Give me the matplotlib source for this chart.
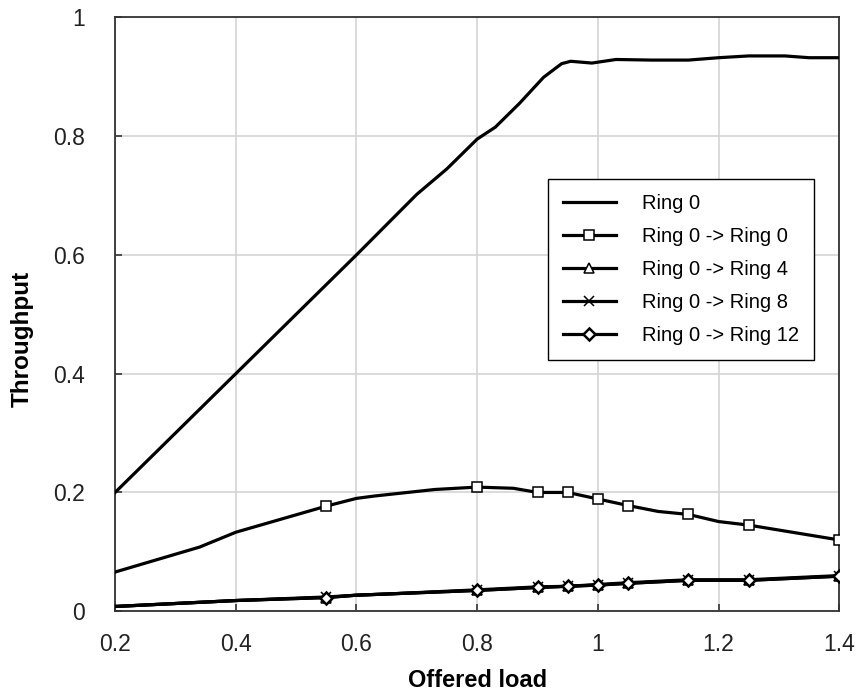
import matplotlib
matplotlib.use('Agg')
import matplotlib.pyplot as plt
import numpy as np

plt.rcParams['font.family'] = ['Liberation Sans', 'DejaVu Sans']

# Ring 0 total throughput
ring0_x = [0.2, 0.3, 0.4, 0.5, 0.6, 0.7, 0.75, 0.8, 0.83, 0.87, 0.91, 0.94,
           0.955, 0.99, 1.03, 1.09, 1.15, 1.2, 1.25, 1.31, 1.35, 1.4]
ring0_y = [0.2, 0.3, 0.4, 0.5, 0.6, 0.702, 0.745, 0.795, 0.815, 0.855, 0.899, 0.922,
           0.926, 0.923, 0.929, 0.928, 0.928, 0.932, 0.935, 0.935, 0.932, 0.932]

# Ring 0 -> Ring 0
r00_x = [0.2, 0.34, 0.4, 0.55, 0.6, 0.63, 0.73, 0.8, 0.86, 0.9, 0.95, 1.0,
         1.05, 1.1, 1.15, 1.2, 1.25, 1.4]
r00_y = [0.066, 0.108, 0.133, 0.177, 0.19, 0.194, 0.205, 0.209, 0.207, 0.2, 0.2, 0.189,
         0.178, 0.168, 0.163, 0.151, 0.145, 0.12]

# Ring 0 -> Ring 4 / 8 / 12 (nearly identical)
low_x = [0.2, 0.4, 0.55, 0.6, 0.65, 0.8, 0.9, 0.95, 1.0, 1.05, 1.15, 1.25, 1.4]
r04_y = [0.008, 0.018, 0.023, 0.027, 0.029, 0.035, 0.040, 0.042, 0.044, 0.047, 0.052, 0.052, 0.059]
r08_y = [0.008, 0.018, 0.024, 0.027, 0.029, 0.036, 0.041, 0.042, 0.045, 0.048, 0.053, 0.053, 0.060]
r12_y = [0.008, 0.018, 0.023, 0.027, 0.029, 0.035, 0.040, 0.042, 0.044, 0.047, 0.052, 0.052, 0.059]

# x values where markers were drawn
marker_x = [0.55, 0.8, 0.9, 0.95, 1.0, 1.05, 1.15, 1.25, 1.4]


def mark_idx(xs):
    return [i for i, v in enumerate(xs) if any(abs(v - m) < 1e-9 for m in marker_x)]


fig = plt.figure(figsize=(8.59, 6.93), dpi=100)
ax = fig.add_axes([0.134, 0.118, 0.843, 0.857])

lw = 2.3
ax.plot(ring0_x, ring0_y, color='black', lw=lw, label='Ring 0', zorder=3)
ax.plot(r00_x, r00_y, color='black', lw=lw, marker='s', ms=7, mfc='white',
        mec='black', mew=1.1, markevery=mark_idx(r00_x), label='Ring 0 -> Ring 0', zorder=3)
ax.plot(low_x, r04_y, color='black', lw=lw, marker='^', ms=7, mfc='white',
        mec='black', mew=1.1, markevery=mark_idx(low_x), label='Ring 0 -> Ring 4', zorder=3)
ax.plot(low_x, r08_y, color='black', lw=lw, marker='x', ms=7,
        mec='black', mew=1.1, markevery=mark_idx(low_x), label='Ring 0 -> Ring 8', zorder=3)
ax.plot(low_x, r12_y, color='black', lw=lw, marker='D', ms=6, mfc='white',
        mec='black', mew=1.8, markevery=mark_idx(low_x), label='Ring 0 -> Ring 12', zorder=4)

ax.set_xlim(0.2, 1.4)
ax.set_ylim(0, 1)
ax.set_xticks([0.2, 0.4, 0.6, 0.8, 1.0, 1.2, 1.4])
ax.set_xticklabels(['0.2', '0.4', '0.6', '0.8', '1', '1.2', '1.4'])
ax.set_yticks([0, 0.2, 0.4, 0.6, 0.8, 1.0])
ax.set_yticklabels(['0', '0.2', '0.4', '0.6', '0.8', '1'])

ax.grid(True, color='#d4d4d4', lw=1.2, zorder=0)
ax.set_axisbelow(True)
ax.tick_params(direction='in', length=5, width=1.2, color='#333333',
               labelsize=16.5, labelcolor='#222222')
ax.tick_params(axis='y', pad=22)
ax.tick_params(axis='x', pad=16)
for s in ax.spines.values():
    s.set_color('#333333')
    s.set_linewidth(1.3)

ax.set_xlabel('Offered load', fontsize=17, fontweight='bold', labelpad=9)
ax.set_ylabel('Throughput', fontsize=17.5, fontweight='bold')
ax.yaxis.set_label_coords(-0.113, 0.458)

leg = ax.legend(loc='upper left', bbox_to_anchor=(0.598, 0.728), fontsize=14.5,
                handlelength=2.6, handletextpad=1.3, labelspacing=0.7,
                borderpad=0.75, borderaxespad=0, fancybox=False, framealpha=1,
                edgecolor='black')
leg.get_frame().set_linewidth(1.0)

fig.savefig('out.png', dpi=100)
